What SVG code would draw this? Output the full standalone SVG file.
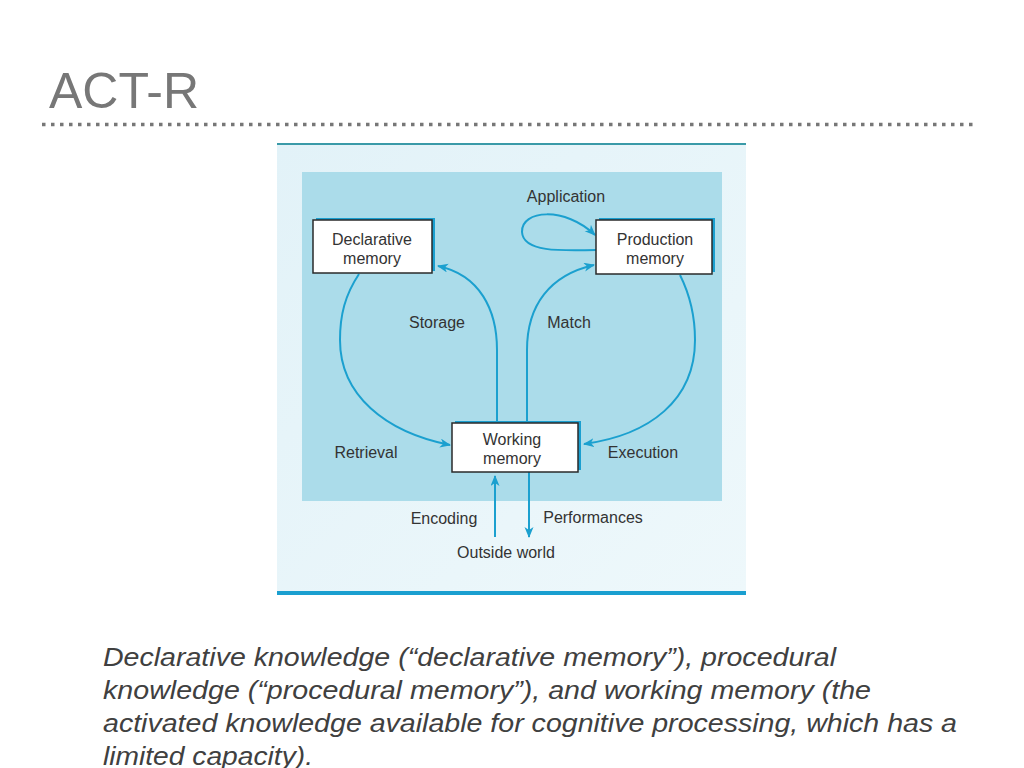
<svg xmlns="http://www.w3.org/2000/svg" width="1024" height="768" viewBox="0 0 1024 768">
<defs>
<style>
.lbl{font-family:"Liberation Sans",Arial,sans-serif;font-size:16px;fill:#333;}
.box{fill:#fff;stroke:#2a2a2a;stroke-width:1.5;}
.shadow{fill:#1a9fd0;}
.con{fill:none;stroke:#1ba0cf;stroke-width:2;marker-end:url(#ah);}
.cap{font-family:"Liberation Sans",Arial,sans-serif;font-style:italic;font-size:26px;fill:#404040;}
</style>
<marker id="ah" markerUnits="userSpaceOnUse" markerWidth="12" markerHeight="10" refX="10" refY="4.5" orient="auto">
<path d="M0,0 L11,4.5 L0,9 L3,4.5 z" fill="#1ba0cf"/>
</marker>
<linearGradient id="bg" x1="0" y1="0" x2="1" y2="1">
<stop offset="0" stop-color="#e2f2f8"/>
<stop offset="1" stop-color="#eef8fb"/>
</linearGradient>
</defs>
<rect width="1024" height="768" fill="#fff"/>
<text x="49" y="108" font-family="'Liberation Sans',Arial,sans-serif" font-size="50" fill="#777">ACT-R</text>
<line x1="42" y1="124.5" x2="975" y2="124.5" stroke="#777" stroke-width="3.5" stroke-dasharray="3.5 5.5"/>

<g id="panel">
<rect x="277" y="143" width="469" height="452" fill="url(#bg)"/>
<line x1="277" y1="144" x2="746" y2="144" stroke="#3a9aa8" stroke-width="2"/>
<line x1="277" y1="593" x2="746" y2="593" stroke="#1a9fd0" stroke-width="4"/>
<rect x="302" y="172" width="420" height="329" fill="#abdcea"/>
</g>

<g id="connectors">
<path class="con" d="M596 250 C560 251 523 252 522 232 C521 210 565 206 595 235"/>
<path class="con" d="M497 423 L497 350 C497 310 480 275 438 266"/>
<path class="con" d="M527 423 L527 350 C527 305 550 275 594 265"/>
<path class="con" d="M359 274 C345 295 340 315 340 340 C340 395 385 432 450 445"/>
<path class="con" d="M680 275 C690 295 695 315 695 340 C695 400 650 435 584 444"/>
<path class="con" d="M495 537 L495 476"/>
<path class="con" d="M529 472 L529 537"/>
</g>

<g id="declarative">
<rect class="shadow" x="316" y="218" width="119" height="53"/>
<rect class="box" x="313" y="220" width="119" height="53"/>
<text class="lbl" x="372" y="245" text-anchor="middle">Declarative</text>
<text class="lbl" x="372" y="264" text-anchor="middle">memory</text>
</g>
<g id="production">
<rect class="shadow" x="599" y="218" width="116" height="54"/>
<rect class="box" x="596" y="220" width="116" height="54"/>
<text class="lbl" x="655" y="245" text-anchor="middle">Production</text>
<text class="lbl" x="655" y="264" text-anchor="middle">memory</text>
</g>
<g id="working">
<rect class="shadow" x="455" y="421" width="126" height="49"/>
<rect class="box" x="452" y="423" width="126" height="49"/>
<text class="lbl" x="512" y="445" text-anchor="middle">Working</text>
<text class="lbl" x="512" y="464" text-anchor="middle">memory</text>
</g>

<g id="labels">
<text class="lbl" x="566" y="202" text-anchor="middle">Application</text>
<text class="lbl" x="437" y="328" text-anchor="middle">Storage</text>
<text class="lbl" x="569" y="328" text-anchor="middle">Match</text>
<text class="lbl" x="366" y="458" text-anchor="middle">Retrieval</text>
<text class="lbl" x="643" y="458" text-anchor="middle">Execution</text>
<text class="lbl" x="444" y="524" text-anchor="middle">Encoding</text>
<text class="lbl" x="593" y="523" text-anchor="middle">Performances</text>
<text class="lbl" x="506" y="558" text-anchor="middle">Outside world</text>
</g>

<g id="caption">
<text class="cap" x="103" y="666" textLength="733" lengthAdjust="spacingAndGlyphs">Declarative knowledge (“declarative memory”), procedural</text>
<text class="cap" x="103" y="699" textLength="768" lengthAdjust="spacingAndGlyphs">knowledge (“procedural memory”), and working memory (the</text>
<text class="cap" x="103" y="732" textLength="854" lengthAdjust="spacingAndGlyphs">activated knowledge available for cognitive processing, which has a</text>
<text class="cap" x="103" y="765" textLength="210" lengthAdjust="spacingAndGlyphs">limited capacity).</text>
</g>
</svg>
